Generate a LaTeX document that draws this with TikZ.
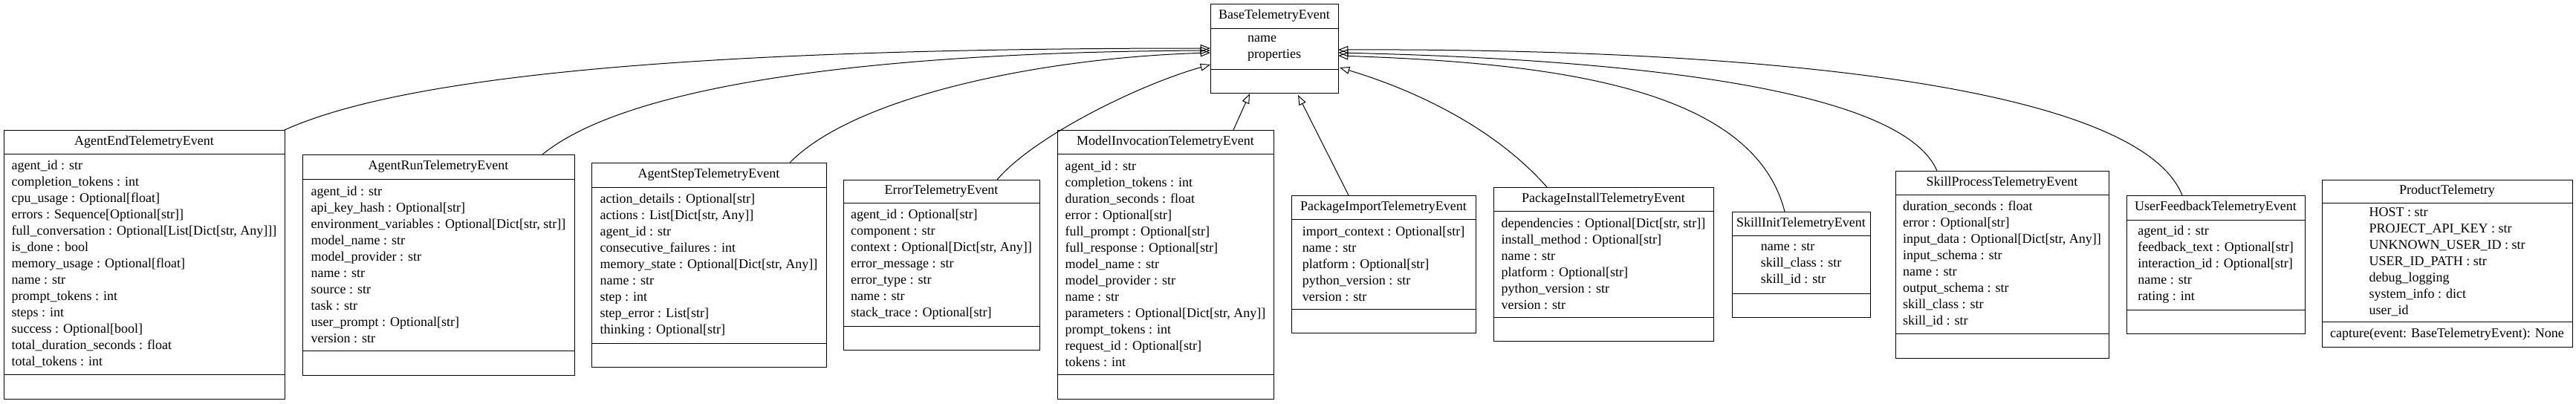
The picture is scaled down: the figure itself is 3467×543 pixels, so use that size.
\documentclass[tikz,border=0pt]{standalone}
\usepackage{fontspec}
\setmainfont{Liberation Serif}
\usetikzlibrary{arrows.meta,calc}
\newcommand\uf{\fontsize{13.5}{16.5}\selectfont}
\tikzset{
  umlbox/.style={draw, line width=0.75pt, inner sep=0pt, outer sep=0pt, fill=white},
  umlline/.style={line width=0.75pt},
  ttl/.style={font=\uf, inner sep=0pt},
  attrs/.style={font=\uf, align=left, inner sep=0pt},
  inh/.style={line width=0.75pt, -{Triangle[open, length=10pt, width=7.5pt]}}
}
% id, left, top, right, header bottom, attr bottom, bottom (pixels)
\newcommand{\ubox}[7]{%
  \node[umlbox, minimum width={(#4-#2)*0.75pt}, minimum height={(#7-#3)*0.75pt}] (#1) at ({(#2+#4)/2},{(#3+#7)/2}) {};
  \draw[umlline] (#2,#5) -- (#4,#5);
  \draw[umlline] (#2,#6) -- (#4,#6);
  \coordinate (#1-t) at ({(#2+#4)/2},{(#3+#5)/2});
  \coordinate (#1-a) at ({(#2+#4)/2},{(#5+#6)/2});
  \coordinate (#1-m) at ({(#2+#4)/2},{(#6+#7)/2});
}
\begin{document}
\begin{tikzpicture}[x=0.75pt,y=-0.75pt]
\useasboundingbox (0,0) rectangle (3467,543);

% ---- boxes ----
\ubox{base}{1629}{5}{1801}{38}{93}{125}
\node[ttl] (base-title) at (base-t) {BaseTelemetryEvent};
\node[attrs] (base-attrs) at (base-a) {name\\properties};

\ubox{aend}{5}{175}{383}{207}{504}{537}
\node[ttl] (aend-title) at (aend-t) {AgentEndTelemetryEvent};
\node[attrs] (aend-attrs) at (aend-a) {agent\_id : str\\completion\_tokens : int\\cpu\_usage : Optional[float]\\errors : Sequence[Optional[str]]\\full\_conversation : Optional[List[Dict[str, Any]]]\\is\_done : bool\\memory\_usage : Optional[float]\\name : str\\prompt\_tokens : int\\steps : int\\success : Optional[bool]\\total\_duration\_seconds : float\\total\_tokens : int};

\ubox{arun}{407}{208}{773}{241}{472}{505}
\node[ttl] (arun-title) at (arun-t) {AgentRunTelemetryEvent};
\node[attrs] (arun-attrs) at (arun-a) {agent\_id : str\\api\_key\_hash : Optional[str]\\environment\_variables : Optional[Dict[str, str]]\\model\_name : str\\model\_provider : str\\name : str\\source : str\\task : str\\user\_prompt : Optional[str]\\version : str};

\ubox{astep}{796}{219}{1112}{252}{462}{494}
\node[ttl] (astep-title) at (astep-t) {AgentStepTelemetryEvent};
\node[attrs] (astep-attrs) at (astep-a) {action\_details : Optional[str]\\actions : List[Dict[str, Any]]\\agent\_id : str\\consecutive\_failures : int\\memory\_state : Optional[Dict[str, Any]]\\name : str\\step : int\\step\_error : List[str]\\thinking : Optional[str]};

\ubox{err}{1135}{242}{1399}{273}{439}{471}
\node[ttl] (err-title) at (err-t) {ErrorTelemetryEvent};
\node[attrs] (err-attrs) at (err-a) {agent\_id : Optional[str]\\component : str\\context : Optional[Dict[str, Any]]\\error\_message : str\\error\_type : str\\name : str\\stack\_trace : Optional[str]};

\ubox{minv}{1423}{175}{1714}{207}{504}{537}
\node[ttl] (minv-title) at (minv-t) {ModelInvocationTelemetryEvent};
\node[attrs] (minv-attrs) at (minv-a) {agent\_id : str\\completion\_tokens : int\\duration\_seconds : float\\error : Optional[str]\\full\_prompt : Optional[str]\\full\_response : Optional[str]\\model\_name : str\\model\_provider : str\\name : str\\parameters : Optional[Dict[str, Any]]\\prompt\_tokens : int\\request\_id : Optional[str]\\tokens : int};

\ubox{pimp}{1738}{263}{1986}{295}{416}{448}
\node[ttl] (pimp-title) at (pimp-t) {PackageImportTelemetryEvent};
\node[attrs] (pimp-attrs) at (pimp-a) {import\_context : Optional[str]\\name : str\\platform : Optional[str]\\python\_version : str\\version : str};

\ubox{pinst}{2010}{252}{2306}{284}{427}{459}
\node[ttl] (pinst-title) at (pinst-t) {PackageInstallTelemetryEvent};
\node[attrs] (pinst-attrs) at (pinst-a) {dependencies : Optional[Dict[str, str]]\\install\_method : Optional[str]\\name : str\\platform : Optional[str]\\python\_version : str\\version : str};

\ubox{sinit}{2331}{285}{2517}{317}{395}{427}
\node[ttl] (sinit-title) at (sinit-t) {SkillInitTelemetryEvent};
\node[attrs] (sinit-attrs) at (sinit-a) {name : str\\skill\_class : str\\skill\_id : str};

\ubox{sproc}{2551}{230}{2838}{262}{449}{482}
\node[ttl] (sproc-title) at (sproc-t) {SkillProcessTelemetryEvent};
\node[attrs] (sproc-attrs) at (sproc-a) {duration\_seconds : float\\error : Optional[str]\\input\_data : Optional[Dict[str, Any]]\\input\_schema : str\\name : str\\output\_schema : str\\skill\_class : str\\skill\_id : str};

\ubox{ufb}{2862}{263}{3102}{296}{417}{449}
\node[ttl] (ufb-title) at (ufb-t) {UserFeedbackTelemetryEvent};
\node[attrs] (ufb-attrs) at (ufb-a) {agent\_id : str\\feedback\_text : Optional[str]\\interaction\_id : Optional[str]\\name : str\\rating : int};

\ubox{prod}{3125}{242}{3462}{273}{433}{467}
\node[ttl] (prod-title) at (prod-t) {ProductTelemetry};
\node[attrs] (prod-attrs) at (prod-a) {HOST : str\\PROJECT\_API\_KEY : str\\UNKNOWN\_USER\_ID : str\\USER\_ID\_PATH : str\\debug\_logging\\system\_info : dict\\user\_id};
\node[ttl] (prod-meth) at (prod-m) {capture(event: BaseTelemetryEvent): None};

% ---- inheritance connectors ----
\coordinate (inL1) at ($(base.north west)+(0,60)$);
\coordinate (inL2) at ($(base.north west)+(0,63)$);
\coordinate (inL3) at ($(base.north west)+(0,66)$);
\coordinate (inL4) at ($(base.north west)+(0,82)$);
\coordinate (inR1) at ($(base.north east)+(0,62)$);
\coordinate (inR2) at ($(base.north east)+(0,66)$);
\coordinate (inR3) at ($(base.north east)+(0,70)$);
\coordinate (inR4) at ($(base.north east)+(2,86)$);
\coordinate (inB1) at ($(base.south west)+(53,1)$);
\coordinate (inB2) at ($(base.south west)+(118,3)$);

\draw[inh] (aend.north east) .. controls (560,95) and (1000,65) .. (inL1);
\draw[inh] ($(arun.north west)+(323,0)$) .. controls (850,110) and (1200,70) .. (inL2);
\draw[inh] ($(astep.north west)+(267,0)$) .. controls (1150,130) and (1400,78) .. (inL3);
\draw[inh] ($(err.north west)+(207,0)$) .. controls (1390,185) and (1530,115) .. (inL4);
\draw[inh] ($(minv.north west)+(237,0)$) -- (inB1);
\draw[inh] ($(pimp.north west)+(77,0)$) -- (inB2);
\draw[inh] ($(pinst.north west)+(72,0)$) .. controls (2010,170) and (1900,120) .. (inR4);
\draw[inh] ($(sinit.north west)+(71,0)$) .. controls (2360,120) and (2100,85) .. (inR3);
\draw[inh] ($(sproc.north west)+(56,0)$) .. controls (2560,120) and (2200,80) .. (inR2);
\draw[inh] ($(ufb.north west)+(75,0)$) .. controls (2880,120) and (2400,65) .. (inR1);
\end{tikzpicture}
\end{document}
